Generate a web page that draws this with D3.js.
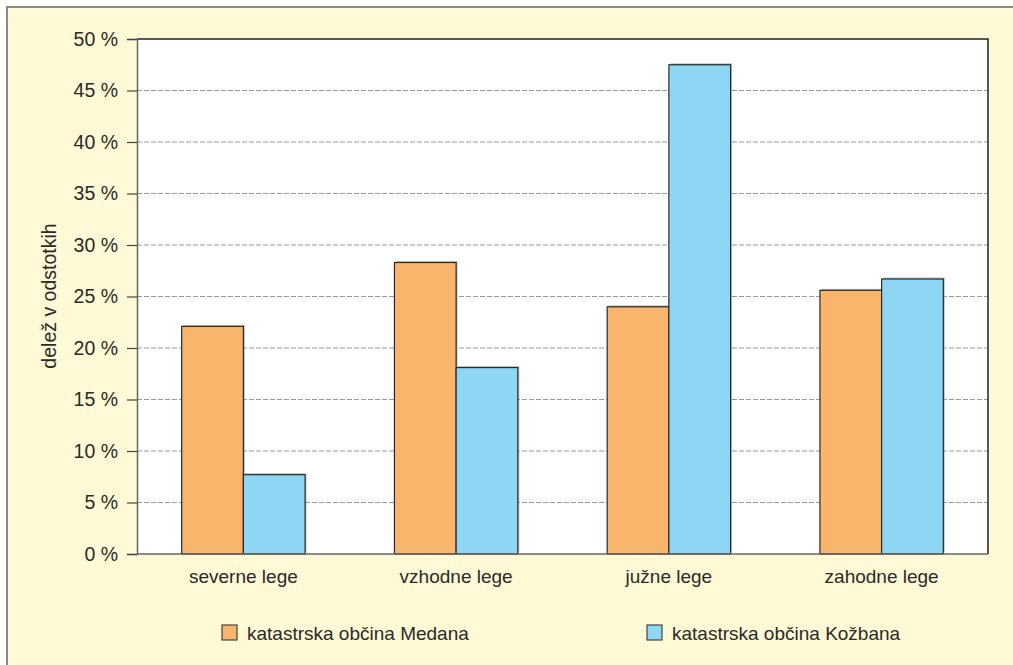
<!DOCTYPE html>
<html><head><meta charset="utf-8">
<script src="https://cdn.jsdelivr.net/npm/d3@7"></script>
<style>html,body{margin:0;padding:0;background:#fff;}svg{display:block;}</style>
</head><body>
<script>
const categories = ["severne lege", "vzhodne lege", "južne lege", "zahodne lege"];
const seriesNames = ["katastrska občina Medana", "katastrska občina Kožbana"];
const medana = [22.1, 28.3, 24.0, 25.6];
const kozbana = [7.7, 18.1, 47.5, 26.7];
const yTicks = [0, 5, 10, 15, 20, 25, 30, 35, 40, 45, 50];
const colors = ["#F8B56B", "#8DD7F5"];

const W = 1013, H = 665;
const m = {left: 137, top: 39, right: 988, bottom: 554};
const FONT = "Liberation Sans, Arial, sans-serif";
const svg = d3.select("body").append("svg").attr("width", W).attr("height", H);
svg.append("rect").attr("width", W).attr("height", H).attr("fill", "#fff");
svg.append("rect").attr("x", 7).attr("y", 7).attr("width", W + 10).attr("height", H + 10)
  .attr("fill", "#FFF9D5").attr("stroke", "#8a8a8a").attr("stroke-width", 2);

const x0 = d3.scaleBand().domain(categories).range([m.left, m.right]).paddingInner(0.42).paddingOuter(0.21);
const x1 = d3.scaleBand().domain([0, 1]).range([0, x0.bandwidth()]);
const y = d3.scaleLinear().domain([0, 50]).range([m.bottom, m.top]);

svg.append("rect").attr("x", m.left).attr("y", m.top).attr("width", m.right - m.left).attr("height", m.bottom - m.top).attr("fill", "#fff");

// gridlines
svg.append("g").selectAll("line").data(yTicks.filter(t => t > 0 && t < 50)).join("line")
  .attr("x1", m.left).attr("x2", m.right).attr("y1", d => y(d)).attr("y2", d => y(d))
  .attr("stroke", "#9a9a9a").attr("stroke-width", 1.2).attr("stroke-dasharray", "5,2");

// plot border top/right
svg.append("path").attr("d", `M${m.left},${m.top}H${m.right}V${m.bottom}`).attr("fill", "none").attr("stroke", "#222").attr("stroke-width", 1.5);

const data = categories.map((c, i) => ({c, vals: [medana[i], kozbana[i]]}));
const g = svg.append("g").selectAll("g").data(data).join("g").attr("transform", d => `translate(${x0(d.c)},0)`);
// shadows
g.selectAll("rect.sh").data(d => d.vals).join("rect").attr("class", "sh")
  .attr("x", (d, j) => x1(j) + 1.5).attr("y", d => y(d) - 1.5)
  .attr("width", x1.bandwidth()).attr("height", d => y(0) - y(d))
  .attr("fill", "#999").attr("opacity", 0.6);
g.selectAll("rect.bar").data(d => d.vals).join("rect").attr("class", "bar")
  .attr("x", (d, j) => x1(j)).attr("y", d => y(d))
  .attr("width", x1.bandwidth()).attr("height", d => y(0) - y(d))
  .attr("fill", (d, j) => colors[j]).attr("stroke", "#2a2a2a").attr("stroke-width", 1.2);

// y axis
const ya = svg.append("g").attr("transform", `translate(${m.left},0)`)
  .call(d3.axisLeft(y).tickValues(yTicks).tickSize(10).tickPadding(9).tickFormat(d => d + " %"));
ya.select(".domain").attr("stroke", "#666").attr("stroke-width", 1.5);
ya.selectAll(".tick line").attr("stroke", "#444").attr("stroke-width", 1.2);
ya.selectAll("text").attr("font-family", FONT).attr("font-size", 19.5).attr("fill", "#2a2a2a");

// x axis
const xa = svg.append("g").attr("transform", `translate(0,${m.bottom})`)
  .call(d3.axisBottom(x0).tickSize(0).tickPadding(16));
xa.select(".domain").attr("stroke", "#666").attr("stroke-width", 1.5).attr("d", `M${m.left},0H${m.right}`);
xa.selectAll("text").attr("font-family", FONT).attr("font-size", 19).attr("fill", "#2a2a2a");

// y title
svg.append("text").attr("transform", "translate(56,296) rotate(-90)").attr("text-anchor", "middle")
  .attr("font-family", FONT).attr("font-size", 19.5).attr("fill", "#2a2a2a")
  .text("delež v odstotkih");

// legend
const legX = [222, 647];
const lg = svg.append("g").selectAll("g").data(seriesNames).join("g").attr("transform", (d, i) => `translate(${legX[i]},625)`);
lg.append("rect").attr("width", 15).attr("height", 15).attr("fill", (d, i) => colors[i]).attr("stroke", "#444").attr("stroke-width", 1.2);
lg.append("text").attr("x", 25).attr("y", 15).attr("font-family", FONT).attr("font-size", 19).attr("fill", "#2a2a2a").text(d => d);
</script>
</body></html>
